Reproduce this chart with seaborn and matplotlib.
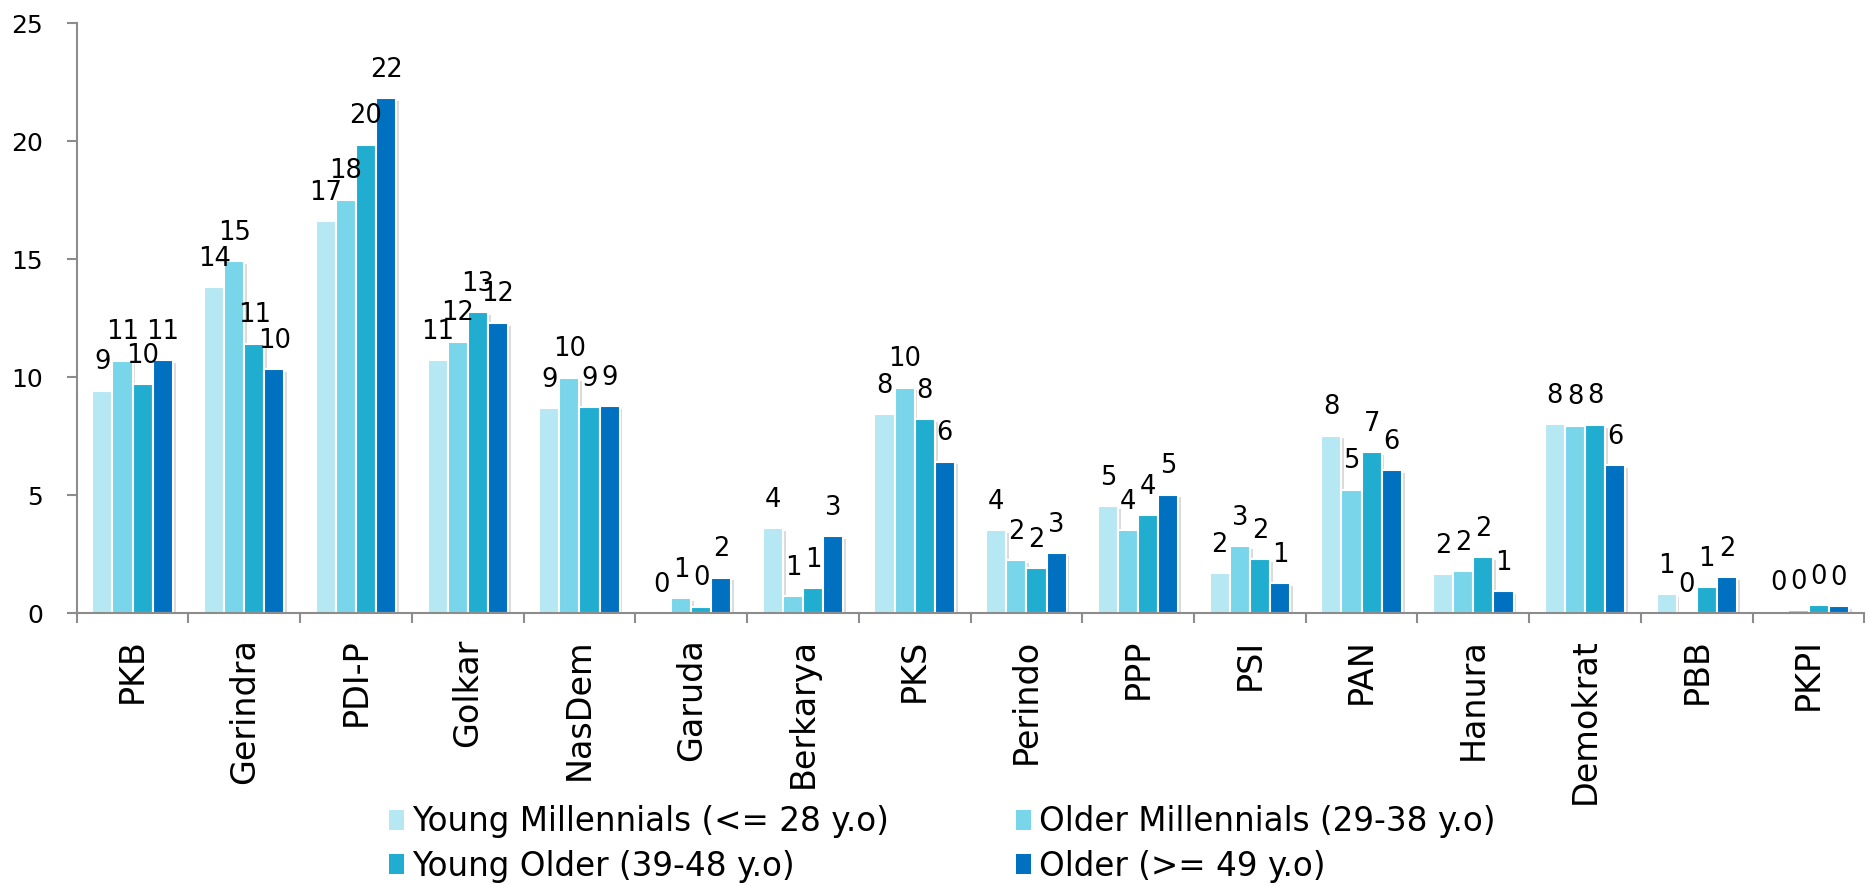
import pandas as pd
import numpy as np
import matplotlib
matplotlib.use("Agg")
import matplotlib.pyplot as plt
import matplotlib.patheffects as pe
from matplotlib.patches import Patch
import seaborn as sns

# parties on the x axis
parties = ['PKB', 'Gerindra', 'PDI-P', 'Golkar', 'NasDem', 'Garuda', 'Berkarya', 'PKS',
           'Perindo', 'PPP', 'PSI', 'PAN', 'Hanura', 'Demokrat', 'PBB', 'PKPI']

# age groups (series)
groups = ['Young Millennials (<= 28 y.o)', 'Older Millennials (29-38 y.o)',
          'Young Older (39-48 y.o)', 'Older (>= 49 y.o)']

young_millennials = [9.44, 13.81, 16.61, 10.74, 8.70, 0.0, 3.60, 8.45,
                     3.52, 4.55, 1.70, 7.53, 1.67, 8.03, 0.82, 0.09]
older_millennials = [10.70, 14.92, 17.52, 11.51, 9.98, 0.66, 0.73, 9.56,
                     2.25, 3.52, 2.85, 5.24, 1.80, 7.95, 0.0, 0.14]
young_older = [9.70, 11.43, 19.85, 12.76, 8.75, 0.29, 1.07, 8.23,
               1.91, 4.17, 2.29, 6.82, 2.40, 7.99, 1.12, 0.36]
older = [10.72, 10.34, 21.82, 12.31, 8.77, 1.52, 3.28, 6.43,
         2.55, 5.03, 1.27, 6.06, 0.96, 6.28, 1.53, 0.31]

colors = ['#B6E8F4', '#78D5EA', '#21ADCF', '#0070C0']

# long-form table for seaborn
rows = []
for g, vals in zip(groups, [young_millennials, older_millennials, young_older, older]):
    for p, v in zip(parties, vals):
        rows.append({'Party': p, 'Group': g, 'Value': v})
df = pd.DataFrame(rows)

sns.set_style('ticks')
plt.rcParams['font.family'] = ['DejaVu Sans']
plt.rcParams['text.color'] = 'black'

fig, ax = plt.subplots(figsize=(18.7, 8.86), dpi=100)
fig.subplots_adjust(left=0.041, right=0.997, top=0.974, bottom=0.3076)

sns.barplot(data=df, x='Party', y='Value', hue='Group', order=parties, hue_order=groups,
            palette=colors, width=0.72, edgecolor='white', linewidth=1.5,
            saturation=1, legend=False, ax=ax)

# soft shadow on bars
for patch in ax.patches:
    patch.set_path_effects([pe.SimplePatchShadow(offset=(2, -2), shadow_rgbFace='#999999', alpha=0.35),
                            pe.Normal()])

# value labels
for cont in ax.containers:
    ax.bar_label(cont, fmt='%.0f', padding=11, fontsize=18.5, color='black')

ax.set_ylim(0, 25)
ax.set_yticks([0, 5, 10, 15, 20, 25])
ax.set_xlim(-0.5, len(parties) - 0.5)
ax.set_xlabel('')
ax.set_ylabel('')

# spines
sns.despine(ax=ax)
for s in ['left', 'bottom']:
    ax.spines[s].set_color('#8C8C8C')
    ax.spines[s].set_linewidth(1.5)

ax.tick_params(axis='y', labelsize=18, length=7, width=1.5, color='#8C8C8C', labelcolor='black', pad=17)
ax.tick_params(axis='x', which='major', labelsize=24, length=0, pad=18, labelrotation=90, labelcolor='black')
ax.set_xticks(np.arange(-0.5, len(parties), 1), minor=True)
ax.tick_params(axis='x', which='minor', length=7, width=1.5, color='#8C8C8C')

# legend below plot, two columns
handles = [Patch(facecolor=c, edgecolor='none') for c in colors]
order = [0, 2, 1, 3]
leg = fig.legend([handles[i] for i in order], [groups[i] for i in order],
                 loc='upper left', bbox_to_anchor=(0.208, 0.091), ncol=2, frameon=False,
                 fontsize=23.5, handlelength=0.45, handleheight=0.55, handletextpad=0.25,
                 columnspacing=3.9, labelspacing=0.35, borderpad=0, borderaxespad=0)
for t in leg.get_texts():
    t.set_color('black')

plt.savefig('out.png', dpi=100)
